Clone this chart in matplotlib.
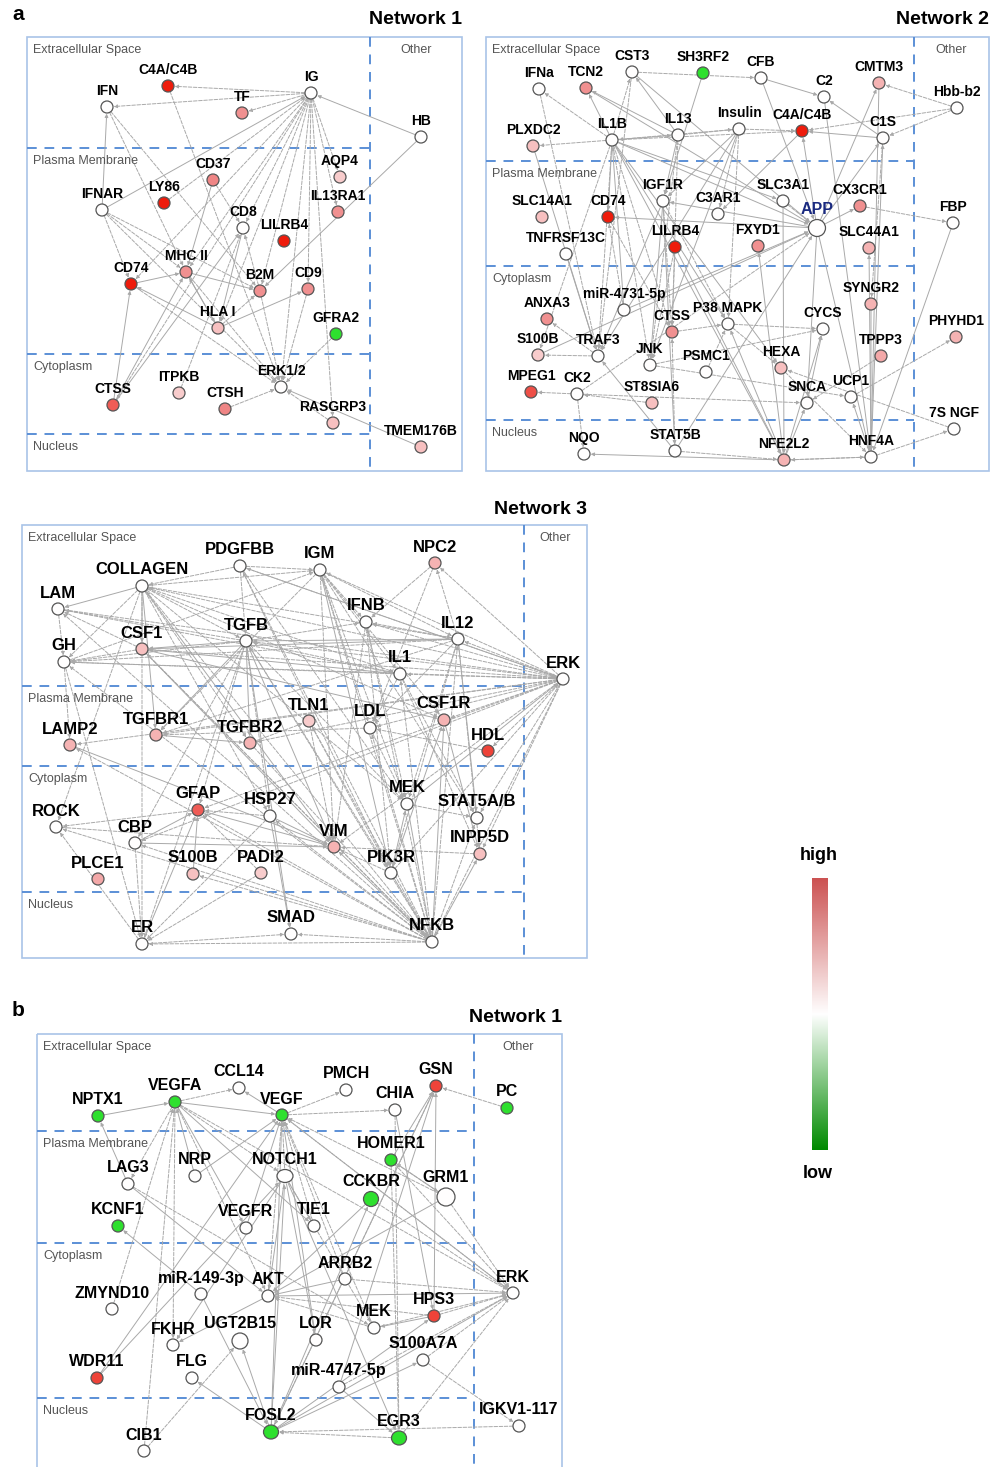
import matplotlib.pyplot as plt
from matplotlib.colors import LinearSegmentedColormap
from matplotlib.patches import Rectangle, Ellipse
import numpy as np

plt.rcParams['font.family'] = ['Liberation Sans', 'DejaVu Sans']

# ---------------- data ----------------
# Network 1 (panel a)
n1_names = ['C4A/C4B', 'IFN', 'TF', 'IG', 'HB', 'CD37', 'AQP4', 'LY86', 'IFNAR', 'IL13RA1', 'CD8', 'LILRB4',
            'MHC II', 'CD74', 'B2M', 'CD9', 'HLA I', 'GFRA2', 'ERK1/2', 'CTSS', 'ITPKB', 'CTSH', 'RASGRP3', 'TMEM176B']
n1_x = [168, 107, 242, 311, 421, 213, 340, 164, 102, 338, 243, 284, 186, 131, 260, 308, 218, 336, 281, 113, 179, 225, 333, 421]
n1_y = [86, 107, 113, 93, 137, 180, 177, 203, 210, 212, 228, 241, 272, 284, 291, 289, 328, 334, 387, 405, 393, 409, 423, 447]
n1_val = [1.0, 0, 0.55, 0, 0, 0.6, 0.3, 1.0, 0, 0.55, 0, 1.0, 0.55, 1.0, 0.55, 0.55, 0.35, -1, 0, 0.75, 0.3, 0.6, 0.35, 0.35]
n1_edges = [('IG', 'C4A/C4B', 'd'), ('IG', 'TF', 'd'), ('IG', 'IFN', 'd'), ('IFNAR', 'IG', 's'), ('HB', 'IG', 's'),
            ('HB', 'B2M', 's'), ('IG', 'AQP4', 'd'), ('IG', 'IL13RA1', 'd'), ('IG', 'CD8', 'd'), ('IG', 'MHC II', 'd'),
            ('IG', 'B2M', 'd'), ('IG', 'CD9', 'd'), ('IG', 'ERK1/2', 'd'), ('IG', 'RASGRP3', 'd'), ('IG', 'HLA I', 'd'),
            ('IG', 'CTSS', 'd'), ('IG', 'CD74', 'd'), ('IFNAR', 'IFN', 's'), ('IFN', 'MHC II', 'd'), ('IFN', 'B2M', 'd'),
            ('IFNAR', 'CD74', 'd'), ('IFNAR', 'MHC II', 'd'), ('IFNAR', 'B2M', 'd'), ('IFNAR', 'ERK1/2', 'd'),
            ('C4A/C4B', 'ERK1/2', 'd'), ('CD37', 'MHC II', 's'), ('CD37', 'CD8', 'd'), ('CTSS', 'MHC II', 's'),
            ('CTSS', 'CD74', 's'), ('CTSS', 'CD8', 's'), ('CD74', 'MHC II', 's'), ('CD74', 'ERK1/2', 'd'),
            ('MHC II', 'B2M', 's'), ('MHC II', 'HLA I', 's'), ('HLA I', 'MHC II', 's'), ('HLA I', 'CD74', 's'),
            ('HLA I', 'B2M', 'd'), ('HLA I', 'CD9', 's'), ('CD8', 'HLA I', 's'), ('B2M', 'CD8', 'd'),
            ('ITPKB', 'CD8', 'd'), ('CTSH', 'ERK1/2', 'd'), ('GFRA2', 'ERK1/2', 'd'), ('RASGRP3', 'ERK1/2', 'd'),
            ('TMEM176B', 'ERK1/2', 's'), ('CD9', 'ERK1/2', 'd'), ('B2M', 'ERK1/2', 'd'), ('MHC II', 'ERK1/2', 'd'),
            ('LY86', 'IG', 'd')]

# Network 2 (panel a)
n2_names = ['IFNa', 'TCN2', 'CST3', 'SH3RF2', 'CFB', 'C2', 'CMTM3', 'Hbb-b2', 'PLXDC2', 'IL1B', 'IL13', 'Insulin',
            'C4A/C4B', 'C1S', 'IGF1R', 'SLC3A1', 'CX3CR1', 'SLC14A1', 'CD74', 'C3AR1', 'APP', 'FBP', 'TNFRSF13C',
            'LILRB4', 'FXYD1', 'SLC44A1', 'SYNGR2', 'miR-4731-5p', 'ANXA3', 'CTSS', 'P38 MAPK', 'CYCS', 'PHYHD1',
            'S100B', 'TRAF3', 'JNK', 'PSMC1', 'HEXA', 'TPPP3', 'MPEG1', 'CK2', 'ST8SIA6', 'SNCA', 'UCP1', '7S NGF',
            'NQO', 'STAT5B', 'NFE2L2', 'HNF4A']
n2_x = [539, 586, 632, 703, 761, 824, 879, 957, 533, 612, 678, 739, 802, 883, 663, 783, 860, 542, 608, 718, 817, 953,
        566, 675, 758, 869, 871, 624, 547, 672, 728, 823, 956, 538, 598, 650, 706, 781, 881, 531, 577, 652, 807, 851,
        954, 584, 675, 784, 871]
n2_y = [89, 88, 72, 73, 78, 97, 83, 108, 146, 140, 135, 129, 131, 138, 201, 201, 206, 217, 217, 214, 228, 223, 254,
        247, 246, 248, 304, 310, 319, 332, 324, 329, 337, 355, 356, 365, 372, 368, 356, 392, 394, 403, 403, 397, 429,
        454, 451, 460, 457]
n2_val = [0, 0.55, 0, -1, 0, 0, 0.4, 0, 0.35, 0, 0, 0, 1.0, 0, 0, 0, 0.55, 0.35, 1.0, 0, 0, 0, 0, 1.0, 0.55, 0.4,
          0.4, 0, 0.55, 0.55, 0, 0, 0.4, 0.3, 0, 0, 0, 0.35, 0.45, 0.8, 0, 0.35, 0, 0, 0, 0, 0, 0.4, 0]
n2_edges = [('IL1B', 'IFNa', 'd'), ('IL1B', 'PLXDC2', 'd'), ('IL1B', 'CST3', 'd'), ('IL1B', 'TCN2', 's'),
            ('IL1B', 'IL13', 's'), ('Insulin', 'IL1B', 'd'), ('IL1B', 'C4A/C4B', 'd'), ('IL1B', 'CD74', 's'),
            ('IL1B', 'APP', 's'), ('IL1B', 'CTSS', 'd'), ('IL1B', 'TRAF3', 'd'), ('miR-4731-5p', 'IL1B', 's'),
            ('IL1B', 'S100B', 'd'), ('IL1B', 'JNK', 'd'), ('IL1B', 'P38 MAPK', 's'), ('IL1B', 'HEXA', 's'),
            ('IL1B', 'SLC3A1', 's'), ('IL1B', 'NFE2L2', 's'), ('IL13', 'CST3', 's'), ('IL13', 'TCN2', 's'),
            ('IL13', 'Insulin', 'd'), ('IL13', 'IGF1R', 's'), ('IL13', 'CTSS', 'd'), ('IL13', 'JNK', 'd'),
            ('Insulin', 'IGF1R', 's'), ('Insulin', 'C3AR1', 'd'), ('Insulin', 'C4A/C4B', 'd'), ('Insulin', 'JNK', 's'),
            ('Insulin', 'P38 MAPK', 'd'), ('Insulin', 'TRAF3', 's'), ('CST3', 'CFB', 'd'), ('CFB', 'C2', 's'),
            ('C1S', 'C2', 's'), ('C1S', 'C4A/C4B', 's'), ('Hbb-b2', 'CMTM3', 'd'), ('Hbb-b2', 'C1S', 'd'),
            ('Hbb-b2', 'C4A/C4B', 'd'), ('SH3RF2', 'IGF1R', 's'), ('CST3', 'APP', 's'), ('CST3', 'TRAF3', 'd'),
            ('APP', 'CD74', 's'), ('APP', 'C4A/C4B', 's'), ('APP', 'C1S', 's'), ('APP', 'CMTM3', 's'),
            ('APP', 'IGF1R', 's'), ('APP', 'CX3CR1', 's'), ('APP', 'SNCA', 's'), ('APP', 'HNF4A', 's'),
            ('SLC3A1', 'APP', 'd'), ('SLC3A1', 'NFE2L2', 's'), ('CX3CR1', 'FBP', 'd'), ('FBP', 'HNF4A', 's'),
            ('C4A/C4B', 'C3AR1', 's'), ('IGF1R', 'TRAF3', 's'), ('IGF1R', 'JNK', 's'), ('IGF1R', 'P38 MAPK', 'd'),
            ('IGF1R', 'CTSS', 'd'), ('IGF1R', 'STAT5B', 's'), ('LILRB4', 'CTSS', 'd'), ('LILRB4', 'NFE2L2', 's'),
            ('LILRB4', 'JNK', 'd'), ('CD74', 'CTSS', 'd'), ('TNFRSF13C', 'TRAF3', 's'), ('PLXDC2', 'TRAF3', 's'),
            ('miR-4731-5p', 'APP', 's'), ('miR-4731-5p', 'CD74', 'd'), ('P38 MAPK', 'CYCS', 'd'),
            ('P38 MAPK', 'HEXA', 'd'), ('CTSS', 'P38 MAPK', 'd'), ('JNK', 'CYCS', 'd'), ('JNK', 'UCP1', 'd'),
            ('CK2', 'SNCA', 'd'), ('CK2', 'NQO', 'd'), ('CK2', 'MPEG1', 'd'), ('TRAF3', 'S100B', 'd'),
            ('NFE2L2', 'NQO', 's'), ('NFE2L2', 'HNF4A', 'd'), ('STAT5B', 'NFE2L2', 'd'), ('HNF4A', 'NFE2L2', 'd'),
            ('HNF4A', 'SLC44A1', 's'), ('HNF4A', 'C1S', 's'), ('HNF4A', 'UCP1', 's'), ('HNF4A', '7S NGF', 'd'),
            ('UCP1', 'PHYHD1', 'd'), ('NFE2L2', 'SNCA', 's'), ('NFE2L2', 'CYCS', 's'), ('NFE2L2', 'FXYD1', 's'),
            ('NFE2L2', 'P38 MAPK', 's'), ('SYNGR2', 'HNF4A', 's'), ('TPPP3', 'SNCA', 'd'), ('SNCA', 'CYCS', 's'),
            ('STAT5B', 'CTSS', 'd'), ('STAT5B', 'TRAF3', 's'), ('STAT5B', 'APP', 's'), ('HEXA', 'HNF4A', 'd'),
            ('TCN2', 'APP', 's'), ('IFNa', 'TRAF3', 'd'), ('C2', 'HNF4A', 's'), ('C1S', 'SYNGR2', 'd'),
            ('CK2', 'APP', 'd'), ('S100B', 'APP', 's'), ('ST8SIA6', 'CK2', 'd'), ('PSMC1', 'P38 MAPK', 'd'),
            ('7S NGF', 'HEXA', 'd'), ('TRAF3', 'ANXA3', 'd'), ('CMTM3', 'HNF4A', 's'), ('CFB', 'APP', 's')]

# Network 3 (panel a)
n3_names = ['PDGFBB', 'IGM', 'NPC2', 'COLLAGEN', 'LAM', 'IFNB', 'TGFB', 'IL12', 'CSF1', 'GH', 'IL1', 'ERK', 'TLN1',
            'LDL', 'CSF1R', 'TGFBR1', 'TGFBR2', 'LAMP2', 'HDL', 'MEK', 'GFAP', 'STAT5A/B', 'HSP27', 'ROCK', 'CBP',
            'VIM', 'INPP5D', 'PIK3R', 'PLCE1', 'S100B', 'PADI2', 'SMAD', 'ER', 'NFKB']
n3_x = [240, 320, 435, 142, 58, 366, 246, 458, 142, 64, 400, 563, 309, 370, 444, 156, 250, 70, 488, 407, 198, 477,
        270, 56, 135, 334, 480, 391, 98, 193, 261, 291, 142, 432]
n3_y = [566, 570, 563, 586, 609, 622, 641, 639, 649, 662, 674, 679, 721, 728, 720, 735, 743, 745, 751, 804, 810, 818,
        816, 827, 843, 847, 854, 873, 879, 874, 873, 934, 944, 942]
n3_val = [0, 0, 0.4, 0, 0, 0, 0, 0, 0.35, 0, 0, 0, 0.3, 0, 0.4, 0.4, 0.4, 0.4, 0.85, 0, 0.75, 0, 0, 0, 0, 0.4, 0.35,
          0, 0.45, 0.35, 0.3, 0, 0, 0]
n3_edges = [('ERK', 'IGM', 'd'), ('ERK', 'IFNB', 'd'), ('ERK', 'IL12', 'd'), ('ERK', 'IL1', 'd'), ('ERK', 'TGFB', 'd'),
            ('ERK', 'CSF1', 'd'), ('ERK', 'GH', 'd'), ('ERK', 'COLLAGEN', 'd'), ('ERK', 'LDL', 'd'),
            ('ERK', 'CSF1R', 'd'), ('ERK', 'HDL', 'd'), ('MEK', 'ERK', 's'), ('ERK', 'STAT5A/B', 'd'),
            ('ERK', 'INPP5D', 'd'), ('ERK', 'NFKB', 'd'), ('PIK3R', 'ERK', 'd'), ('ERK', 'VIM', 'd'),
            ('ERK', 'TGFBR1', 'd'), ('ERK', 'TGFBR2', 'd'), ('ERK', 'LAMP2', 'd'), ('ERK', 'NPC2', 'd'),
            ('NFKB', 'IGM', 'd'), ('NFKB', 'IFNB', 'd'), ('NFKB', 'IL12', 'd'), ('NFKB', 'IL1', 'd'),
            ('NFKB', 'TGFB', 'd'), ('NFKB', 'CSF1', 'd'), ('NFKB', 'COLLAGEN', 'd'), ('NFKB', 'PDGFBB', 'd'),
            ('NFKB', 'ER', 'd'), ('NFKB', 'SMAD', 'd'), ('NFKB', 'VIM', 's'), ('NFKB', 'GFAP', 'd'),
            ('NFKB', 'CBP', 'd'), ('MEK', 'NFKB', 's'), ('NFKB', 'STAT5A/B', 'd'), ('NFKB', 'INPP5D', 's'),
            ('NFKB', 'CSF1R', 's'), ('NFKB', 'LDL', 'd'), ('NFKB', 'TLN1', 'd'), ('NFKB', 'HSP27', 'd'),
            ('PIK3R', 'NFKB', 's'), ('NFKB', 'S100B', 'd'), ('COLLAGEN', 'LAM', 's'), ('COLLAGEN', 'GH', 'd'),
            ('COLLAGEN', 'CSF1', 's'), ('COLLAGEN', 'TGFB', 'd'), ('PDGFBB', 'COLLAGEN', 'd'),
            ('COLLAGEN', 'IGM', 'd'), ('COLLAGEN', 'IL1', 'd'), ('COLLAGEN', 'IL12', 'd'), ('COLLAGEN', 'TGFBR1', 's'),
            ('COLLAGEN', 'TGFBR2', 'd'), ('COLLAGEN', 'VIM', 's'), ('COLLAGEN', 'MEK', 'd'), ('COLLAGEN', 'ER', 'd'),
            ('COLLAGEN', 'ROCK', 'd'), ('TGFB', 'TGFBR1', 's'), ('TGFB', 'TGFBR2', 's'), ('TGFB', 'SMAD', 's'),
            ('IL12', 'TGFB', 's'), ('TGFB', 'IFNB', 'd'), ('TGFB', 'CSF1', 's'), ('TGFB', 'GH', 'd'),
            ('TGFB', 'LAM', 'd'), ('TGFB', 'VIM', 's'), ('TGFB', 'GFAP', 'd'), ('TGFB', 'HSP27', 'd'),
            ('TGFB', 'CBP', 'd'), ('TGFB', 'ER', 'd'), ('IGM', 'IL1', 'd'), ('IGM', 'IFNB', 'd'), ('IGM', 'PIK3R', 's'),
            ('IGM', 'MEK', 'd'), ('IGM', 'VIM', 'd'), ('IGM', 'LDL', 'd'), ('IGM', 'IL12', 'd'),
            ('IL12', 'IFNB', 'd'), ('IL12', 'CSF1', 's'), ('IL12', 'GH', 'd'), ('IL12', 'STAT5A/B', 's'),
            ('IL12', 'INPP5D', 'd'), ('IL12', 'LDL', 'd'), ('IL12', 'TGFBR1', 'd'), ('CSF1', 'CSF1R', 's'),
            ('CSF1', 'GH', 'd'), ('CSF1', 'LAM', 'd'), ('IL1', 'CSF1', 's'), ('GFAP', 'ROCK', 'd'),
            ('CBP', 'GFAP', 's'), ('S100B', 'GFAP', 's'), ('GFAP', 'VIM', 's'), ('HSP27', 'GFAP', 'd'),
            ('PADI2', 'GFAP', 'd'), ('CBP', 'ER', 'd'), ('CBP', 'VIM', 's'), ('PIK3R', 'MEK', 's'),
            ('PIK3R', 'VIM', 'd'), ('PIK3R', 'CSF1R', 's'), ('HSP27', 'VIM', 's'), ('HSP27', 'SMAD', 's'),
            ('ER', 'SMAD', 'd'), ('ER', 'GFAP', 's'), ('ER', 'ROCK', 'd'), ('PDGFBB', 'IGM', 'd'),
            ('PDGFBB', 'TGFB', 'd'), ('PDGFBB', 'MEK', 'd'), ('PDGFBB', 'PIK3R', 'd'), ('PDGFBB', 'ERK', 'd'),
            ('IL1', 'LDL', 'd'), ('IL1', 'GH', 'd'), ('IL1', 'TGFB', 'd'), ('IFNB', 'MEK', 'd'),
            ('HDL', 'LDL', 'd'), ('NPC2', 'IFNB', 'd'), ('NPC2', 'LDL', 'd'), ('TLN1', 'VIM', 'd'),
            ('LAMP2', 'VIM', 's'), ('LAM', 'GH', 'd'), ('GH', 'ER', 'd'), ('MEK', 'STAT5A/B', 'd'),
            ('CSF1R', 'INPP5D', 's'), ('TGFBR1', 'TGFBR2', 's'), ('TGFBR2', 'TLN1', 'd'), ('ROCK', 'VIM', 'd'),
            ('IFNB', 'VIM', 'd'), ('INPP5D', 'VIM', 'd'), ('LAM', 'ERK', 'd'), ('TGFBR2', 'NFKB', 'd'),
            ('GH', 'LAMP2', 'd'), ('CSF1', 'VIM', 's'), ('IL12', 'NPC2', 'd'), ('LDL', 'TGFBR1', 'd'),
            ('ERK', 'PDGFBB', 'd'), ('ERK', 'CBP', 'd'), ('ERK', 'GFAP', 'd'), ('NFKB', 'ROCK', 'd'),
            ('NFKB', 'LAMP2', 'd'), ('NFKB', 'GH', 'd'), ('NFKB', 'LAM', 'd'), ('IGM', 'TGFBR1', 'd'),
            ('IGM', 'CSF1R', 'd'), ('IL12', 'MEK', 'd'), ('IL12', 'PIK3R', 'd'), ('IL1', 'INPP5D', 'd'),
            ('IL1', 'STAT5A/B', 'd'), ('TGFB', 'PIK3R', 'd'), ('TGFB', 'MEK', 'd'), ('COLLAGEN', 'HSP27', 'd'),
            ('CSF1', 'NFKB', 'd'), ('HSP27', 'ER', 'd'), ('PADI2', 'ER', 'd'), ('TLN1', 'PIK3R', 'd'),
            ('LDL', 'MEK', 'd'), ('IFNB', 'PIK3R', 'd'), ('IGM', 'STAT5A/B', 'd'), ('COLLAGEN', 'CSF1R', 'd'),
            ('GH', 'IGM', 'd'), ('LAM', 'IL1', 'd')]

# Network 1 (panel b)
b_names = ['CCL14', 'PMCH', 'GSN', 'VEGFA', 'CHIA', 'PC', 'NPTX1', 'VEGF', 'HOMER1', 'NRP', 'NOTCH1', 'LAG3', 'CCKBR',
           'GRM1', 'KCNF1', 'VEGFR', 'TIE1', 'ARRB2', 'ERK', 'miR-149-3p', 'AKT', 'ZMYND10', 'HPS3', 'MEK', 'FKHR',
           'UGT2B15', 'LOR', 'S100A7A', 'WDR11', 'FLG', 'miR-4747-5p', 'FOSL2', 'EGR3', 'IGKV1-117', 'CIB1']
b_x = [239, 346, 436, 175, 395, 507, 98, 282, 391, 195, 285, 128, 371, 446, 118, 246, 314, 345, 513, 201, 268, 112,
       434, 374, 173, 240, 316, 423, 97, 192, 339, 271, 399, 519, 144]
b_y = [1088, 1090, 1086, 1102, 1110, 1108, 1116, 1115, 1160, 1176, 1176, 1184, 1199, 1197, 1226, 1228, 1226, 1279,
       1293, 1294, 1296, 1309, 1316, 1328, 1345, 1341, 1340, 1360, 1378, 1378, 1387, 1432, 1438, 1426, 1451]
b_val = [0, 0, 0.85, -1, 0, -1, -1, -1, -1, 0, 0, 0, -1, 0, -1, 0, 0, 0, 0, 0, 0, 0, 0.85, 0, 0, 0, 0, 0, 0.85, 0,
         0, -1, -1, 0, 0]
b_edges = [('NPTX1', 'VEGFA', 's'), ('VEGFA', 'CCL14', 'd'), ('VEGF', 'CCL14', 's'), ('VEGFA', 'VEGF', 's'),
           ('NRP', 'VEGFA', 's'), ('VEGFA', 'VEGFR', 's'), ('VEGFA', 'AKT', 'd'), ('VEGFA', 'FKHR', 'd'),
           ('ZMYND10', 'VEGFA', 'd'), ('CIB1', 'VEGFA', 'd'), ('VEGFA', 'ERK', 'd'), ('VEGFA', 'TIE1', 's'),
           ('VEGFA', 'NOTCH1', 'd'), ('VEGF', 'PMCH', 'd'), ('VEGF', 'CHIA', 'd'), ('NRP', 'VEGF', 's'),
           ('NOTCH1', 'VEGF', 'd'), ('VEGFR', 'VEGF', 's'), ('AKT', 'VEGF', 'd'), ('TIE1', 'VEGF', 'd'),
           ('ERK', 'VEGF', 'd'), ('FOSL2', 'VEGF', 's'), ('LOR', 'VEGF', 's'), ('GRM1', 'VEGF', 'd'),
           ('ARRB2', 'VEGF', 'd'), ('MEK', 'VEGF', 'd'), ('PC', 'GSN', 'd'), ('HOMER1', 'GSN', 's'),
           ('FOSL2', 'GSN', 's'), ('miR-4747-5p', 'GSN', 's'), ('HPS3', 'GSN', 's'), ('NOTCH1', 'AKT', 's'),
           ('NOTCH1', 'LOR', 's'), ('NOTCH1', 'EGR3', 's'), ('NOTCH1', 'TIE1', 's'), ('FOSL2', 'NOTCH1', 's'),
           ('WDR11', 'NOTCH1', 's'), ('AKT', 'ERK', 's'), ('ARRB2', 'AKT', 's'), ('MEK', 'AKT', 'd'),
           ('HPS3', 'AKT', 'd'), ('GRM1', 'AKT', 's'), ('CCKBR', 'AKT', 's'), ('GRM1', 'ERK', 'd'),
           ('HOMER1', 'ERK', 'd'), ('CCKBR', 'ERK', 'd'), ('ARRB2', 'ERK', 'd'), ('HPS3', 'ERK', 'd'),
           ('MEK', 'ERK', 'd'), ('S100A7A', 'ERK', 'd'), ('FOSL2', 'ERK', 's'), ('miR-4747-5p', 'ERK', 'd'),
           ('EGR3', 'ERK', 'd'), ('FOSL2', 'FLG', 's'), ('FOSL2', 'UGT2B15', 's'), ('FOSL2', 'HPS3', 's'),
           ('FOSL2', 'S100A7A', 's'), ('miR-149-3p', 'FOSL2', 's'), ('EGR3', 'FOSL2', 'd'),
           ('IGKV1-117', 'FOSL2', 'd'), ('FOSL2', 'CCKBR', 's'), ('miR-4747-5p', 'EGR3', 's'),
           ('HOMER1', 'EGR3', 'd'), ('LAG3', 'NPTX1', 's'), ('LAG3', 'MEK', 'd'), ('CIB1', 'UGT2B15', 'd'),
           ('WDR11', 'VEGF', 's'), ('miR-149-3p', 'KCNF1', 's'), ('HPS3', 'MEK', 's'), ('S100A7A', 'IGKV1-117', 'd'),
           ('CHIA', 'HPS3', 's'), ('HOMER1', 'GRM1', 's'), ('GRM1', 'HOMER1', 'd'), ('NOTCH1', 'FKHR', 's'),
           ('LAG3', 'AKT', 's'), ('VEGFA', 'LAG3', 'd'), ('AKT', 'FKHR', 's'), ('NOTCH1', 'MEK', 'd'),
           ('VEGF', 'ERK', 'd'), ('GSN', 'FOSL2', 'd'), ('CHIA', 'EGR3', 'd')]

# ---------------- style helpers ----------------
node_cmap = LinearSegmentedColormap.from_list(
    'nodes', [(0.0, '#2ee02e'), (0.5, '#ffffff'), (0.65, '#f8cccc'), (0.8, '#ef8585'), (1.0, '#ee1c0c')])
bar_cmap = LinearSegmentedColormap.from_list('bar', ['#008a00', '#ffffff', '#cc5252'])

EDGE_C = '#a9a9a9'
DASH_C = '#5b8fd6'
BOX_C = '#a9c4e8'
REGIONS = ['Extracellular Space', 'Plasma Membrane', 'Cytoplasm', 'Nucleus']

fig = plt.figure(figsize=(10, 14.67), dpi=100)
ax = fig.add_axes([0, 0, 1, 1])
ax.set_xlim(0, 1000)
ax.set_ylim(1467, 0)
ax.axis('off')


def draw_frame(x0, x1, xdiv, y0, y1, hlines, title, title_y):
    ax.add_patch(Rectangle((x0, y0), x1 - x0, y1 - y0, fill=False, ec=BOX_C, lw=1.2, zorder=0))
    ax.plot([xdiv, xdiv], [y0, min(y1, 1467)], ls=(0, (5, 4)), color=DASH_C, lw=1.4, zorder=0)
    for h in hlines:
        ax.plot([x0, xdiv], [h, h], ls=(0, (5, 4)), color=DASH_C, lw=1.4, zorder=0)
    tops = [y0] + list(hlines)
    for lab, t in zip(REGIONS, tops):
        ax.text(x0 + 6, t + 13, lab, color='#555555', fontsize=9, va='center', ha='left')
    ax.text((xdiv + x1) / 2, y0 + 13, 'Other', color='#555555', fontsize=9, va='center', ha='center')
    ax.text(x1, title_y, title, fontsize=14, fontweight='bold', ha='right', va='center')


def draw_net(names, xs, ys, vals, edges, fs, big=None):
    big = big or {}
    pos = {n: (x, y) for n, x, y in zip(names, xs, ys)}
    rad = {n: big.get(n, (6, 6)) for n in names}
    for a, b, st in edges:
        ax.annotate('', xy=pos[b], xytext=pos[a],
                    arrowprops=dict(arrowstyle='-|>', color=EDGE_C, lw=0.7,
                                    linestyle='--' if st == 'd' else '-',
                                    shrinkA=rad[a][0] * 0.72, shrinkB=rad[b][0] * 0.72 + 0.5,
                                    mutation_scale=5), zorder=1)
    for n, v in zip(names, vals):
        x, y = pos[n]
        rx, ry = rad[n]
        ax.add_patch(Ellipse((x, y), 2 * rx, 2 * ry, fc=node_cmap((v + 1) / 2), ec='#555555', lw=0.9, zorder=3))
        col = '#1a2a80' if n == 'APP' else 'black'
        ax.text(x, y - ry - 10, n, ha='center', va='center', fontsize=fs + (1.5 if n == 'APP' else 0),
                fontweight='bold', color=col, zorder=4)


# ---------------- panel a ----------------
ax.text(12, 14, 'a', fontsize=15, fontweight='bold', va='center')
draw_frame(27, 462, 370, 37, 471, [148, 354, 434], 'Network 1', 20)
draw_net(n1_names, n1_x, n1_y, n1_val, n1_edges, 10)

draw_frame(486, 989, 914, 37, 471, [161, 266, 420], 'Network 2', 20)
draw_net(n2_names, n2_x, n2_y, n2_val, n2_edges, 10, big={'APP': (8.5, 8.5)})

draw_frame(22, 587, 524, 525, 958, [686, 766, 892], 'Network 3', 510)
draw_net(n3_names, n3_x, n3_y, n3_val, n3_edges, 12)

# ---------------- panel b ----------------
ax.text(12, 1010, 'b', fontsize=15, fontweight='bold', va='center')
draw_frame(37, 562, 474, 1034, 1480, [1131, 1243, 1398], 'Network 1', 1017)
draw_net(b_names, b_x, b_y, b_val, b_edges, 11.5,
         big={'NOTCH1': (8, 6.5), 'CCKBR': (7.5, 7.5), 'GRM1': (9, 9), 'UGT2B15': (8, 8),
              'FOSL2': (7.5, 7), 'EGR3': (7.5, 7)})

# ---------------- colour scale ----------------
cax = fig.add_axes([812 / 1000, 1 - 1150 / 1467, 16 / 1000, 272 / 1467])
cax.imshow(np.linspace(1, 0, 256).reshape(-1, 1), aspect='auto', cmap=bar_cmap)
cax.set_xticks([])
cax.set_yticks([])
for s in cax.spines.values():
    s.set_visible(False)
ax.text(819, 855, 'high', fontsize=13, fontweight='bold', ha='center', va='center')
ax.text(818, 1173, 'low', fontsize=13, fontweight='bold', ha='center', va='center')

fig.savefig('out.png', dpi=100)
